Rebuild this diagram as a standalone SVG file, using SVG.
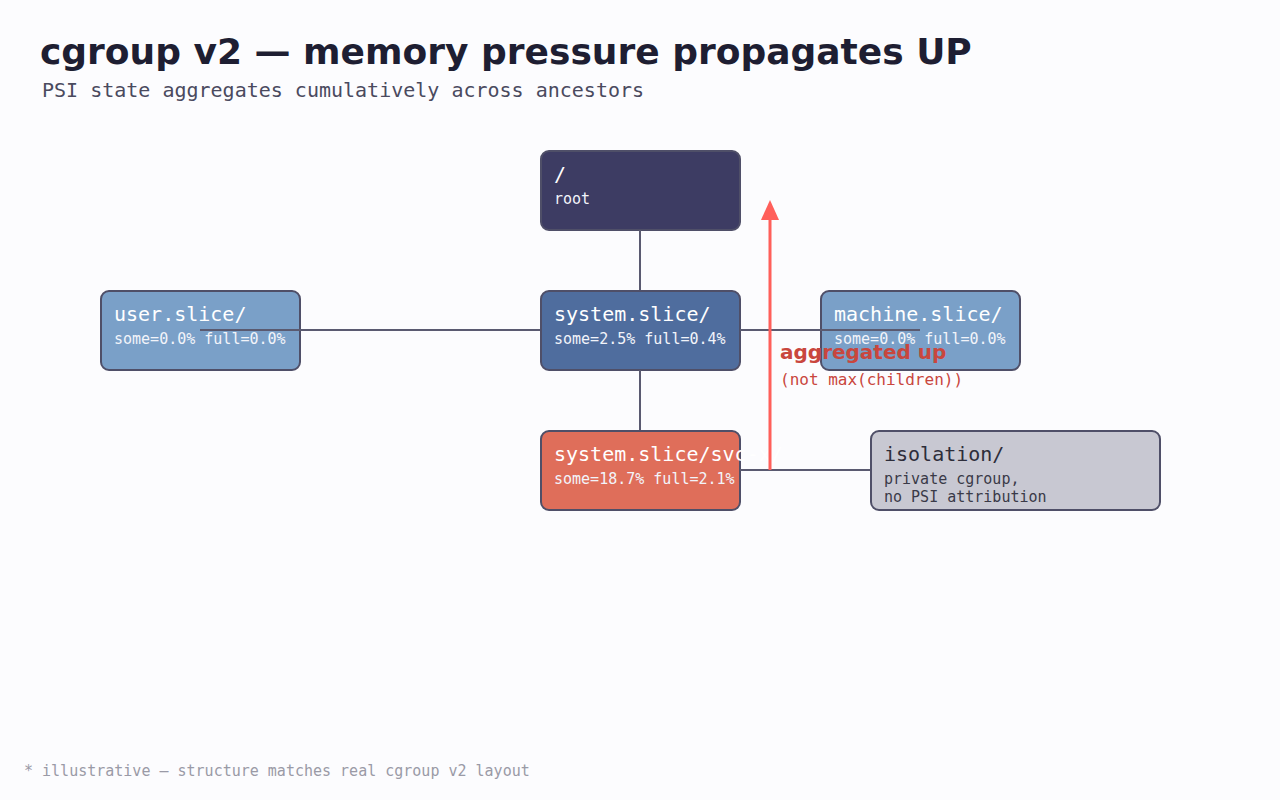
<svg xmlns="http://www.w3.org/2000/svg" width="1280" height="800" viewBox="0 0 1280 800">
<style>
.mono{font-family:"DejaVu Sans Mono","Liberation Mono",monospace}
.box{stroke:#4f4f68;stroke-width:2}
.t{font-size:20px;fill:#ffffff}
.s{font-size:15px;fill:#f2f4fa}
.edge{stroke:#5a5a70;stroke-width:2;fill:none}
</style>
<rect width="1280" height="800" fill="#fcfcfe"/>
<text x="40" y="64" font-family="DejaVu Sans,Liberation Sans,sans-serif" font-weight="bold" font-size="36" fill="#1e1e32">cgroup v2 — memory pressure propagates UP</text>
<text x="42" y="97" class="mono" font-size="20" fill="#4a4a5e">PSI state aggregates cumulatively across ancestors</text>

<g id="node-root">
<rect class="box" x="541" y="151" width="199" height="79" rx="8" fill="#3d3c63"/>
<text class="mono t" x="554" y="181">/</text>
<text class="mono s" x="554" y="204">root</text>
</g>
<g id="node-user">
<rect class="box" x="101" y="291" width="199" height="79" rx="8" fill="#7aa0c8"/>
<text class="mono t" x="114" y="321">user.slice/</text>
<text class="mono s" x="114" y="344">some=0.0% full=0.0%</text>
</g>
<g id="node-system">
<rect class="box" x="541" y="291" width="199" height="79" rx="8" fill="#4f6d9e"/>
<text class="mono t" x="554" y="321">system.slice/</text>
<text class="mono s" x="554" y="344">some=2.5% full=0.4%</text>
</g>
<g id="node-machine">
<rect class="box" x="821" y="291" width="199" height="79" rx="8" fill="#7aa0c8"/>
<text class="mono t" x="834" y="321">machine.slice/</text>
<text class="mono s" x="834" y="344">some=0.0% full=0.0%</text>
</g>
<g id="node-svc">
<rect class="box" x="541" y="431" width="199" height="79" rx="8" fill="#df6e5a"/>
<text class="mono t" x="554" y="461">system.slice/svc-x/</text>
<text class="mono s" x="554" y="484">some=18.7% full=2.1%</text>
</g>
<g id="node-isolation">
<rect class="box" x="871" y="431" width="289" height="79" rx="8" fill="#c8c8d2"/>
<text class="mono" x="884" y="461" font-size="20" fill="#2d2d3a">isolation/</text>
<text class="mono" x="884" y="484" font-size="15" fill="#3a3a48">private cgroup,</text>
<text class="mono" x="884" y="502" font-size="15" fill="#3a3a48">no PSI attribution</text>
</g>

<g id="connectors">
<line class="edge" x1="200" y1="330" x2="540" y2="330"/>
<line class="edge" x1="740" y1="330" x2="920" y2="330"/>
<line class="edge" x1="640" y1="230" x2="640" y2="290"/>
<line class="edge" x1="640" y1="370" x2="640" y2="430"/>
<line class="edge" x1="740" y1="470" x2="870" y2="470"/>
</g>

<g id="aggregation">
<line x1="770" y1="470" x2="770" y2="218" stroke="#ff5f5a" stroke-width="3"/>
<polygon points="770,200 761,220 779,220" fill="#ff5f5a"/>
<text x="780" y="359" font-family="DejaVu Sans,Liberation Sans,sans-serif" font-weight="bold" font-size="20" fill="#c9463d">aggregated up</text>
<text class="mono" x="780" y="385" font-size="16" fill="#c9463d">(not max(children))</text>
</g>

<text class="mono" x="24" y="776" font-size="15" fill="#9a9aa6">* illustrative — structure matches real cgroup v2 layout</text>
</svg>
